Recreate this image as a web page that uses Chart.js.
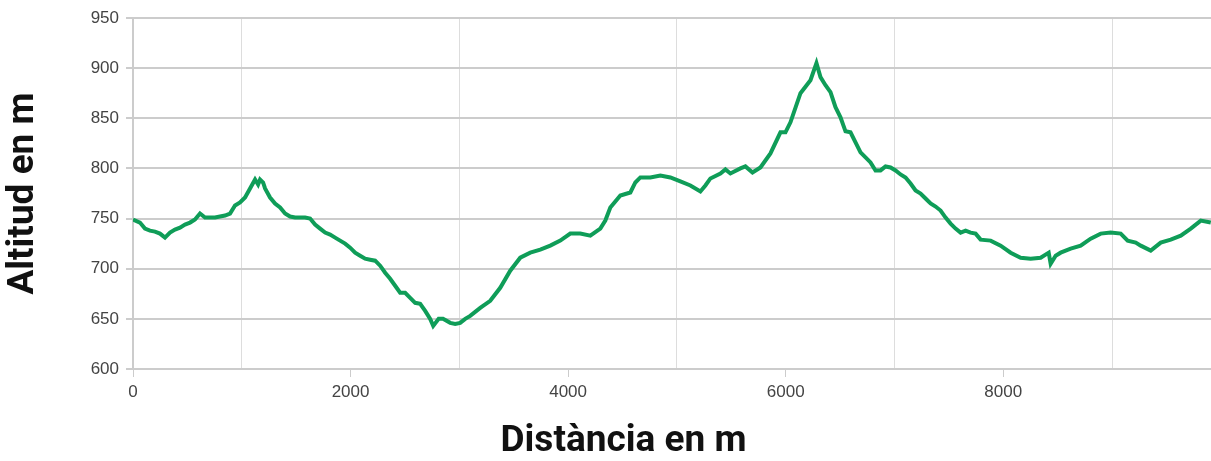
<!DOCTYPE html>
<html>
<head>
<meta charset="utf-8">
<script src="https://cdn.jsdelivr.net/npm/chart.js@4"></script>
<style>
  body { margin: 0; background: #fff; }
  #wrap { width: 1211px; height: 461px; }
</style>
</head>
<body>
<div id="wrap"><canvas id="profile-chart"></canvas></div>
<script>
// distance along the route (m)
const distances = [
  0, 64, 110, 156, 202, 248, 294, 340, 386, 432, 478, 524, 570, 616, 662, 708, 754, 800, 846, 892,
  938, 984, 1030, 1076, 1122, 1150, 1168, 1196, 1214, 1260, 1306, 1352, 1398, 1444, 1490, 1536, 1582, 1628, 1674, 1720,
  1766, 1812, 1858, 1904, 1950, 1996, 2042, 2088, 2134, 2180, 2226, 2272, 2318, 2364, 2410, 2456, 2502, 2548, 2594, 2640,
  2686, 2732, 2760, 2810, 2850, 2916, 2962, 3008, 3054, 3100, 3192, 3284, 3376, 3468, 3560, 3652, 3744, 3836, 3928, 4020,
  4112, 4204, 4296, 4342, 4388, 4480, 4572, 4618, 4664, 4756, 4848, 4940, 5032, 5124, 5216, 5262, 5308, 5400, 5446, 5492,
  5584, 5630, 5695, 5768, 5860, 5952, 5998, 6044, 6136, 6228, 6283, 6320, 6366, 6412, 6458, 6504, 6550, 6596, 6642, 6688,
  6734, 6780, 6826, 6872, 6918, 6964, 7010, 7056, 7102, 7148, 7194, 7240, 7286, 7332, 7378, 7424, 7470, 7516, 7562, 7608,
  7654, 7700, 7746, 7792, 7884, 7976, 8068, 8160, 8252, 8344, 8418, 8436, 8482, 8528, 8620, 8712, 8804, 8896, 8988, 9080,
  9144, 9218, 9264, 9356, 9448, 9540, 9632, 9724, 9816, 9908
];

// altitude (m)
const altitudes = [
  749, 746, 740, 738, 737, 735, 731, 736, 739, 741, 744, 746, 749, 755, 751, 751, 751, 752, 753, 755,
  763, 766, 771, 780, 789, 784, 789, 786, 780, 771, 765, 761, 755, 752, 751, 751, 751, 750, 744, 740,
  736, 734, 731, 728, 725, 721, 716, 713, 710, 709, 708, 703, 696, 690, 683, 676, 676, 671, 666, 665,
  658, 650, 643, 650, 650, 646, 645, 646, 650, 653, 661, 668, 681, 698, 711, 716, 719, 723, 728, 735,
  735, 733, 740, 748, 761, 773, 776, 786, 791, 791, 793, 791, 787, 783, 777, 783, 790, 795, 799, 795,
  800, 802, 796, 801, 815, 836, 836, 846, 875, 888, 905, 891, 883, 876, 861, 851, 837, 836, 826, 816,
  811, 806, 798, 798, 802, 801, 798, 794, 791, 785, 778, 775, 770, 765, 762, 758, 751, 745, 740, 736,
  738, 736, 735, 729, 728, 723, 716, 711, 710, 711, 716, 705, 713, 716, 720, 723, 730, 735, 736, 735,
  728, 726, 723, 718, 726, 729, 733, 740, 748, 746
];

// x grid positions; only the even thousands get a label
const xTicks = [0, 1000, 2000, 3000, 4000, 5000, 6000, 7000, 8000, 9000];
const xLabelled = [0, 2000, 4000, 6000, 8000];

const xMin = 0;
const xMax = 9910;
const yMin = 600;
const yMax = 950;

Chart.defaults.font.family = "'Liberation Sans', Arial, sans-serif";
Chart.defaults.color = '#444';

const ctx = document.getElementById('profile-chart').getContext('2d');

const isLabelled = (c) => c.tick && xLabelled.includes(c.tick.value);

new Chart(ctx, {
  type: 'line',
  data: {
    datasets: [
      {
        label: 'Altitud',
        data: distances.map((d, i) => ({ x: d, y: altitudes[i] })),
        borderColor: '#0f9d58',
        borderWidth: 4,
        pointRadius: 0,
        tension: 0,
        fill: false,
      },
    ],
  },
  options: {
    responsive: true,
    maintainAspectRatio: false,
    animation: false,
    layout: {
      padding: { left: 36, top: 18, right: 0, bottom: 0 },
    },
    plugins: {
      legend: { display: false },
      tooltip: { enabled: false },
      title: {
        display: true,
        position: 'bottom',
        text: 'Distància en m',
        color: '#111',
        font: { family: 'Roboto', weight: 'bold', size: 37 },
        padding: { top: 0, bottom: -3 },
      },
    },
    scales: {
      x: {
        type: 'linear',
        min: xMin,
        max: xMax,
        afterFit: (scale) => { scale.height = 50.6; },
        afterBuildTicks: (scale) => { scale.ticks = xTicks.map((v) => ({ value: v })); },
        ticks: {
          autoSkip: false,
          maxRotation: 0,
          padding: 5,
          font: { size: 17 },
          color: '#444',
          callback: (v) => (xLabelled.includes(v) ? String(v) : ''),
        },
        grid: {
          color: (c) => (isLabelled(c) ? 'rgba(0,0,0,0)' : '#dddddd'),
          tickColor: (c) => (isLabelled(c) ? '#cccccc' : 'rgba(0,0,0,0)'),
          tickLength: 8,
          lineWidth: 1,
        },
        border: { color: '#cccccc', width: 2 },
      },
      y: {
        min: yMin,
        max: yMax,
        afterFit: (scale) => { scale.width = 97; },
        ticks: {
          stepSize: 50,
          padding: 7,
          font: { size: 17 },
          color: '#444',
        },
        grid: {
          color: '#cccccc',
          lineWidth: 2,
          tickColor: '#cccccc',
          tickLength: 7,
        },
        border: { color: '#cccccc', width: 2 },
        title: {
          display: true,
          text: 'Altitud en m',
          color: '#111',
          font: { family: 'Roboto', weight: 'bold', size: 37 },
          padding: { top: -34, bottom: 0 },
        },
      },
    },
  },
});
</script>
</body>
</html>
